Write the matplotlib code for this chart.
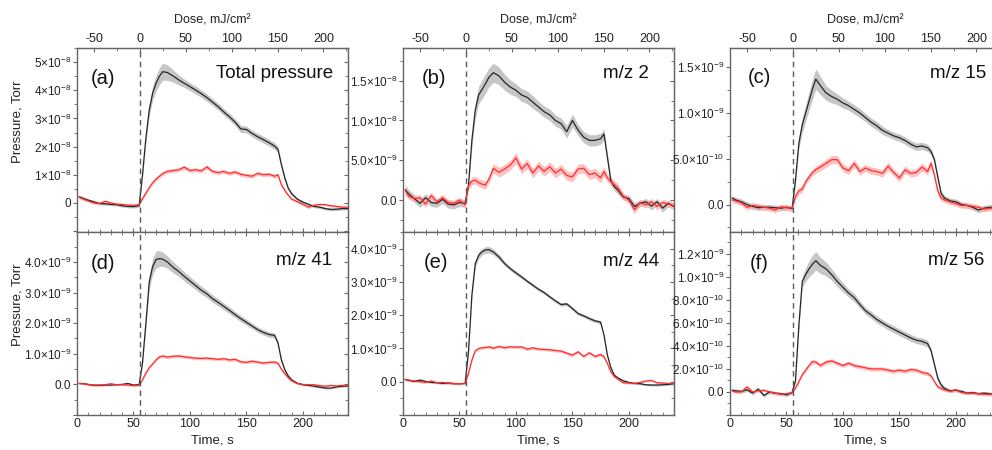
import numpy as np
import matplotlib
matplotlib.use('Agg')
import matplotlib.pyplot as plt
from matplotlib.ticker import MultipleLocator, FixedLocator, FuncFormatter

plt.rcParams['font.family'] = ['Liberation Sans', 'DejaVu Sans']
plt.rcParams['mathtext.fontset'] = 'custom'
plt.rcParams['mathtext.rm'] = 'Liberation Sans'
plt.rcParams['mathtext.it'] = 'Liberation Sans:italic'
plt.rcParams['mathtext.bf'] = 'Liberation Sans:bold'
plt.rcParams['axes.unicode_minus'] = False

# time grid, s (same for every panel)
t = [2, 5, 10, 15, 20, 25, 30, 35, 40, 45, 50, 55,
     58, 61, 64, 67, 70, 73, 76,
     80, 85, 90, 95, 100, 105, 110, 115, 120, 125, 130, 135, 140, 145, 150, 155, 160, 165, 170, 175,
     178, 181, 184, 187, 190,
     195, 200, 205, 210, 215, 220, 225, 230, 235, 240]

# (a) total pressure, units of 1e-8 Torr
a_black = [0.22, 0.17, 0.10, 0.04, -0.02, -0.03, -0.05, -0.06, -0.10, -0.12, -0.13, -0.10,
           1.0, 2.3, 3.3, 3.9, 4.25, 4.5, 4.66,
           4.63, 4.51, 4.37, 4.25, 4.13, 4.01, 3.88, 3.74, 3.58, 3.42, 3.23, 3.06, 2.87, 2.63, 2.61, 2.47, 2.35, 2.25, 2.14, 2.02,
           1.9, 1.36, 0.89, 0.53, 0.33,
           0.14, 0.03, -0.05, -0.12, -0.15, -0.20, -0.23, -0.22, -0.20, -0.20]
a_black_sd = [0.06, 0.06, 0.05, 0.05, 0.05, 0.05, 0.05, 0.05, 0.05, 0.05, 0.05, 0.05,
              0.10, 0.15, 0.20, 0.25, 0.28, 0.30, 0.30,
              0.28, 0.22, 0.18, 0.15, 0.14, 0.14, 0.13, 0.13, 0.12, 0.12, 0.12, 0.12, 0.12, 0.13, 0.12, 0.12, 0.12, 0.12, 0.12, 0.12,
              0.10, 0.10, 0.08, 0.06, 0.06,
              0.05, 0.05, 0.05, 0.05, 0.05, 0.05, 0.05, 0.05, 0.05, 0.05]
a_red = [0.20, 0.15, 0.07, 0.0, -0.02, 0.06, 0.0, -0.04, -0.05, -0.08, -0.08, -0.06,
         0.15, 0.35, 0.55, 0.72, 0.85, 0.95, 1.05,
         1.12, 1.15, 1.18, 1.27, 1.15, 1.18, 1.14, 1.28, 1.12, 1.08, 1.12, 1.05, 1.10, 1.02, 0.98, 0.95, 1.05, 1.00, 1.02, 0.95,
         1.0, 0.65, 0.45, 0.28, 0.14,
         0.05, -0.05, -0.15, -0.08, -0.05, -0.06, -0.10, -0.12, -0.15, -0.15]
a_red_sd = [0.05, 0.05, 0.04, 0.04, 0.04, 0.05, 0.04, 0.04, 0.04, 0.04, 0.04, 0.04,
            0.05, 0.05, 0.06, 0.06, 0.07, 0.07, 0.07,
            0.07, 0.07, 0.07, 0.08, 0.07, 0.07, 0.07, 0.08, 0.07, 0.07, 0.07, 0.07, 0.07, 0.07, 0.07, 0.07, 0.07, 0.07, 0.07, 0.07,
            0.07, 0.06, 0.05, 0.05, 0.05,
            0.04, 0.04, 0.05, 0.04, 0.04, 0.04, 0.04, 0.04, 0.04, 0.04]

# (b) m/z 2, units of 1e-9 Torr
b_black = [1.3, 0.8, 0.2, -0.4, 0.3, -0.3, -0.4, 0.1, -0.5, -0.6, -0.3, -0.4,
           1.9, 7.5, 11.3, 13.2, 13.9, 14.6, 15.4,
           16.0, 15.6, 14.8, 14.2, 13.8, 13.2, 12.9, 12.3, 11.7, 11.1, 10.7, 10.0, 9.6, 8.6, 10.0, 8.8, 7.9, 7.5, 7.5, 7.7,
           8.3, 5.4, 2.5, 1.7, 1.3,
           0.4, 0.2, -0.8, -0.4, -0.2, -0.75, -0.2, -1.0, -0.4, -0.8]
b_black_sd = [0.6, 0.5, 0.5, 0.5, 0.5, 0.5, 0.5, 0.5, 0.5, 0.5, 0.5, 0.5,
              0.6, 0.8, 1.0, 1.1, 1.2, 1.2, 1.2,
              1.2, 1.1, 1.0, 0.9, 0.8, 0.8, 0.8, 0.8, 0.7, 0.7, 0.7, 0.7, 0.7, 0.8, 0.8, 0.7, 0.7, 0.7, 0.7, 0.7,
              0.6, 0.5, 0.5, 0.5, 0.5,
              0.4, 0.4, 0.5, 0.4, 0.4, 0.5, 0.4, 0.5, 0.4, 0.4]
b_red = [1.2, 0.5, 0.2, 0.3, -0.5, 0.6, -0.2, 0.3, -0.3, -0.4, 0.0, -0.6,
         1.8, 2.4, 2.5, 2.2, 2.0, 1.9, 2.6,
         4.0, 3.5, 3.9, 4.4, 5.3, 3.9, 4.6, 3.4, 4.3, 3.6, 4.2, 3.4, 3.9, 3.1, 2.9, 3.9, 4.0, 3.2, 3.4, 2.8,
         3.6, 2.8, 2.3, 2.0, 1.6,
         0.5, 0.0, -1.2, -0.3, -0.6, -0.2, -0.8, -0.3, -0.5, -0.7]
b_red_sd = [0.5, 0.4, 0.4, 0.4, 0.4, 0.4, 0.4, 0.4, 0.4, 0.4, 0.4, 0.4,
            0.4, 0.5, 0.5, 0.5, 0.5, 0.5, 0.5,
            0.6, 0.6, 0.6, 0.6, 0.7, 0.6, 0.6, 0.6, 0.6, 0.6, 0.6, 0.6, 0.6, 0.6, 0.6, 0.6, 0.6, 0.6, 0.6, 0.6,
            0.6, 0.5, 0.5, 0.5, 0.5,
            0.4, 0.4, 0.5, 0.4, 0.4, 0.4, 0.4, 0.4, 0.4, 0.4]

# (c) m/z 15, units of 1e-10 Torr
c_black = [0.7, 0.5, 0.3, 0.0, -0.2, -0.35, -0.3, -0.3, -0.35, -0.4, -0.3, -0.45,
           2.7, 6.7, 8.7, 10.0, 11.3, 12.6, 13.7,
           13.0, 12.2, 11.8, 11.5, 11.1, 10.8, 10.4, 10.0, 9.5, 9.0, 8.6, 8.1, 7.8, 7.5, 7.3, 7.0, 6.6, 6.3, 6.4, 6.2,
           5.8, 4.9, 3.0, 1.2, 0.7,
           0.4, 0.3, 0.0, -0.1, -0.3, -0.6, -0.4, -0.3, -0.3, -0.4]
c_black_sd = [0.3, 0.3, 0.3, 0.3, 0.3, 0.3, 0.3, 0.3, 0.3, 0.3, 0.3, 0.3,
              0.4, 0.6, 0.8, 0.9, 1.0, 1.1, 1.1,
              1.0, 0.8, 0.7, 0.6, 0.55, 0.5, 0.5, 0.5, 0.45, 0.45, 0.45, 0.45, 0.4, 0.4, 0.4, 0.4, 0.4, 0.4, 0.4, 0.4,
              0.35, 0.3, 0.3, 0.3, 0.3,
              0.3, 0.3, 0.3, 0.3, 0.3, 0.3, 0.3, 0.3, 0.3, 0.3]
c_red = [0.5, 0.4, 0.2, -0.3, -0.1, -0.2, -0.3, -0.4, -0.6, -0.25, -0.35, -0.4,
         0.9, 1.5, 1.7, 2.5, 3.0, 3.5, 3.8,
         4.1, 4.5, 4.9, 4.9, 4.0, 3.7, 4.5, 3.6, 4.0, 3.7, 3.6, 3.4, 4.2, 3.5, 2.9, 3.8, 3.4, 3.5, 4.1, 3.6,
         4.5, 3.2, 1.5, 0.7, 0.5,
         0.3, 0.1, -0.1, -0.1, -0.2, -0.3, -0.5, -0.4, -0.4, -0.4]
c_red_sd = [0.3, 0.3, 0.3, 0.3, 0.3, 0.3, 0.3, 0.3, 0.3, 0.3, 0.3, 0.3,
            0.35, 0.35, 0.35, 0.35, 0.35, 0.35, 0.4,
            0.4, 0.45, 0.45, 0.45, 0.4, 0.4, 0.45, 0.4, 0.4, 0.4, 0.4, 0.4, 0.45, 0.4, 0.4, 0.4, 0.4, 0.4, 0.45, 0.4,
            0.4, 0.35, 0.35, 0.35, 0.3,
            0.3, 0.3, 0.3, 0.3, 0.3, 0.3, 0.3, 0.3, 0.3, 0.3]

# (d) m/z 41, units of 1e-10 Torr
d_black = [0.3, 0.3, 0.0, -0.3, -0.3, -0.2, -0.2, -0.1, 0.0, 0.3, -0.2, -0.1,
           7.0, 20.0, 33.5, 38.5, 40.8, 41.1, 40.9,
           40.0, 38.3, 36.9, 35.3, 33.8, 32.3, 30.8, 29.6, 28.0, 26.8, 25.5, 24.2, 22.8, 21.5, 20.3, 19.1, 17.9, 17.0, 16.3, 16.0,
           13.5, 8.0, 4.8, 2.8, 1.5,
           0.4, -0.1, -0.3, -0.6, -0.9, -1.2, -1.2, -0.8, -0.6, -0.5]
d_black_sd = [0.3, 0.3, 0.3, 0.3, 0.3, 0.3, 0.3, 0.3, 0.3, 0.3, 0.3, 0.3,
              0.6, 1.5, 2.2, 2.6, 2.8, 2.6, 2.3,
              2.0, 1.8, 1.6, 1.5, 1.4, 1.3, 1.3, 1.2, 1.2, 1.2, 1.1, 1.1, 1.0, 1.0, 1.0, 0.9, 0.9, 0.9, 0.9, 0.8,
              0.7, 0.6, 0.5, 0.4, 0.4,
              0.3, 0.3, 0.3, 0.3, 0.3, 0.3, 0.3, 0.3, 0.3, 0.3]
d_red = [0.3, 0.2, -0.1, -0.2, -0.2, -0.1, 0.2, -0.1, -0.1, -0.2, -0.4, -0.3,
         1.5, 3.7, 5.5, 6.7, 8.0, 9.0, 9.3,
         8.9, 9.2, 9.3, 9.0, 8.8, 8.6, 8.5, 8.6, 8.4, 8.2, 8.4, 8.0, 8.2, 7.4, 7.2, 7.6, 7.3, 7.0, 7.2, 7.3,
         6.9, 5.0, 3.5, 2.2, 1.2,
         0.3, 0.0, -0.1, -0.1, -0.4, -0.6, -0.3, -0.5, -0.3, -0.4]
d_red_sd = [0.3, 0.3, 0.3, 0.3, 0.3, 0.3, 0.3, 0.3, 0.3, 0.3, 0.3, 0.3,
            0.4, 0.4, 0.4, 0.4, 0.4, 0.45, 0.5,
            0.5, 0.5, 0.5, 0.5, 0.5, 0.5, 0.5, 0.5, 0.5, 0.5, 0.5, 0.5, 0.5, 0.5, 0.5, 0.5, 0.5, 0.5, 0.5, 0.5,
            0.4, 0.4, 0.4, 0.4, 0.4,
            0.3, 0.3, 0.3, 0.3, 0.3, 0.3, 0.3, 0.3, 0.3, 0.3]

# (e) m/z 44, units of 1e-10 Torr
e_black = [0.7, 0.4, 0.1, 0.5, 0.1, -0.2, -0.3, -0.5, -0.4, -0.6, -0.6, -0.5,
           9.0, 26.0, 35.5, 38.0, 39.1, 39.6, 39.7,
           39.0, 37.5, 35.5, 34.0, 32.7, 31.5, 30.2, 29.0, 27.8, 26.8, 25.5, 24.3, 23.2, 23.4, 22.0, 20.5, 19.8, 19.0, 18.3, 17.9,
           14.0, 8.0, 4.3, 2.0, 1.2,
           0.3, -0.2, -0.5, -0.6, -0.9, -1.0, -1.0, -0.9, -0.8, -0.6]
e_black_sd = [0.3, 0.3, 0.3, 0.3, 0.3, 0.3, 0.3, 0.3, 0.3, 0.3, 0.3, 0.3,
              0.5, 0.8, 1.0, 1.0, 1.0, 1.0, 1.0,
              0.9, 0.8, 0.7, 0.6, 0.6, 0.55, 0.5, 0.5, 0.5, 0.5, 0.5, 0.5, 0.5, 0.5, 0.5, 0.5, 0.5, 0.5, 0.5, 0.5,
              0.4, 0.4, 0.4, 0.4, 0.4,
              0.3, 0.3, 0.3, 0.3, 0.3, 0.3, 0.3, 0.3, 0.3, 0.3]
e_red = [0.6, 0.5, 0.2, 0.0, -0.2, 0.2, -0.3, -0.2, -0.4, -0.5, -0.6, -0.5,
         2.5, 6.5, 9.3, 10.0, 10.2, 10.3, 10.5,
         10.1, 10.6, 10.2, 10.5, 10.4, 10.5, 9.8, 10.2, 9.8, 9.7, 9.6, 9.4, 9.2, 8.6, 8.0, 9.0, 7.6, 8.7, 7.6, 8.2,
         7.5, 5.5, 3.0, 1.6, 0.9,
         -0.3, -0.4, -0.5, -0.2, 0.2, 0.4, -0.3, -0.4, -0.5, -0.6]
e_red_sd = [0.3, 0.3, 0.3, 0.3, 0.3, 0.3, 0.3, 0.3, 0.3, 0.3, 0.3, 0.3,
            0.4, 0.4, 0.4, 0.4, 0.4, 0.45, 0.45,
            0.45, 0.45, 0.45, 0.45, 0.45, 0.45, 0.45, 0.45, 0.45, 0.45, 0.45, 0.45, 0.45, 0.45, 0.45, 0.45, 0.45, 0.45, 0.45, 0.45,
            0.4, 0.4, 0.4, 0.4, 0.4,
            0.3, 0.3, 0.3, 0.3, 0.3, 0.3, 0.3, 0.3, 0.3, 0.3]

# (f) m/z 56, units of 1e-10 Torr
f_black = [0.15, 0.1, 0.05, 0.2, -0.1, 0.25, -0.3, 0.0, -0.1, -0.15, -0.25, -0.05,
           1.0, 5.8, 9.6, 10.2, 10.7, 11.1, 11.4,
           11.0, 10.7, 10.2, 9.6, 9.1, 8.6, 8.2, 7.6, 7.05, 6.7, 6.3, 6.0, 5.7, 5.45, 5.2, 4.95, 4.7, 4.5, 4.4, 4.2,
           3.6, 2.4, 1.2, 0.6, 0.3,
           0.1, 0.15, 0.05, -0.1, -0.05, -0.15, -0.1, -0.15, -0.2, -0.2]
f_black_sd = [0.15, 0.15, 0.15, 0.15, 0.15, 0.15, 0.15, 0.15, 0.15, 0.15, 0.15, 0.15,
              0.2, 0.4, 0.5, 0.6, 0.7, 0.8, 0.8,
              0.7, 0.6, 0.5, 0.45, 0.4, 0.35, 0.35, 0.3, 0.3, 0.3, 0.3, 0.3, 0.3, 0.3, 0.3, 0.3, 0.3, 0.3, 0.3, 0.3,
              0.2, 0.2, 0.2, 0.2, 0.2,
              0.15, 0.15, 0.15, 0.15, 0.15, 0.15, 0.15, 0.15, 0.15, 0.15]
f_red = [0.1, 0.0, 0.0, 0.45, 0.0, 0.1, 0.15, 0.0, -0.1, -0.2, -0.15, -0.05,
         0.35, 0.9, 1.5, 1.9, 2.3, 2.65, 2.6,
         2.3, 2.6, 2.7, 2.5, 2.3, 2.5, 2.3, 2.2, 2.1, 2.0, 2.0, 2.0, 1.9, 1.8, 1.9, 1.8, 1.95, 1.9, 1.7, 1.6,
         1.4, 0.9, 0.45, 0.3, 0.2,
         0.05, 0.2, -0.05, -0.1, -0.1, -0.15, -0.2, -0.2, -0.15, -0.15]
f_red_sd = [0.12, 0.12, 0.12, 0.12, 0.12, 0.12, 0.12, 0.12, 0.12, 0.12, 0.12, 0.12,
            0.15, 0.15, 0.15, 0.15, 0.15, 0.18, 0.18,
            0.18, 0.18, 0.18, 0.18, 0.18, 0.18, 0.18, 0.18, 0.18, 0.18, 0.18, 0.18, 0.18, 0.18, 0.18, 0.18, 0.18, 0.18, 0.18, 0.18,
            0.15, 0.15, 0.15, 0.15, 0.15,
            0.12, 0.12, 0.12, 0.12, 0.12, 0.12, 0.12, 0.12, 0.12, 0.12]

letters = ['(a)', '(b)', '(c)', '(d)', '(e)', '(f)']
titles = ['Total pressure', 'm/z 2', 'm/z 15', 'm/z 41', 'm/z 44', 'm/z 56']
scales = [1e-8, 1e-9, 1e-10, 1e-10, 1e-10, 1e-10]
ylims = [(-1.03e-8, 5.5e-8), (-4.0e-9, 1.91e-8), (-3.0e-10, 1.71e-9),
         (-1.0e-9, 4.98e-9), (-1.0e-9, 4.5e-9), (-2.0e-10, 1.39e-9)]
y_major = [1e-8, 5e-9, 5e-10, 1e-9, 1e-9, 2e-10]
y_decimals = [0, 1, 1, 1, 1, 1]
dose_ticks = [-50, 0, 50, 100, 150, 200]
dose_minor = [-75, -25, 25, 75, 125, 175, 225]
black_series = [a_black, b_black, c_black, d_black, e_black, f_black]
black_sd = [a_black_sd, b_black_sd, c_black_sd, d_black_sd, e_black_sd, f_black_sd]
red_series = [a_red, b_red, c_red, d_red, e_red, f_red]
red_sd = [a_red_sd, b_red_sd, c_red_sd, d_red_sd, e_red_sd, f_red_sd]

t_start = 55.8      # exposure start, s
dose_rate = 1.231   # mJ/cm2 per s

# layout in pixels of the 992x450 canvas
col_left = [77, 403, 730]
row_span = [(48, 232), (232, 415)]
ax_w = 271
letter_pos = [(0.05, 0.835), (0.069, 0.835), (0.064, 0.84), (0.05, 0.829), (0.075, 0.832), (0.074, 0.829)]
title_pos = [(0.946, 0.862), (0.906, 0.859), (0.944, 0.859), (0.94, 0.843), (0.945, 0.84), (0.94, 0.843)]

SPINE = '#666666'
TXT = '#222222'


def sci_label(v, dec):
    if v < -1e-20:
        return ''
    if abs(v) < 1e-20:
        return '0' if dec == 0 else '0.0'
    e = int(np.floor(np.log10(abs(v)) + 1e-6))
    m = f'{v / 10 ** e:.{dec}f}'
    return r'$%s{\times}10^{%d}$' % (m, e)


fig = plt.figure(figsize=(9.92, 4.5), dpi=100)
tt = np.array(t)

for i in range(6):
    row, col = divmod(i, 3)
    top, bot = row_span[row]
    ax = fig.add_axes([col_left[col] / 992, (450 - bot) / 450, ax_w / 992, (bot - top) / 450])

    k = scales[i]
    yb = np.array(black_series[i]) * k
    sb = np.array(black_sd[i]) * k
    yr = np.array(red_series[i]) * k
    sr = np.array(red_sd[i]) * k

    ax.fill_between(tt, yb - sb, yb + sb, color='#c6c6c6', lw=0, zorder=1)
    ax.fill_between(tt, yr - sr, yr + sr, color='#ffacac', alpha=0.75, lw=0, zorder=2)
    ax.plot(tt, yb, color='#262626', lw=0.9, zorder=3)
    ax.plot(tt, yr, color='#ff2e2e', lw=0.9, zorder=4)
    ax.axvline(56, color='#5a5a5a', lw=1.0, ls=(0, (4, 3)), zorder=5)

    ax.set_xlim(0, 240)
    ax.set_ylim(*ylims[i])
    ax.xaxis.set_major_locator(MultipleLocator(50))
    ax.xaxis.set_minor_locator(MultipleLocator(10))
    ax.yaxis.set_major_locator(MultipleLocator(y_major[i]))
    ax.yaxis.set_minor_locator(MultipleLocator(y_major[i] / 2))
    dec = y_decimals[i]
    ax.yaxis.set_major_formatter(FuncFormatter(lambda v, p, d=dec: sci_label(v, d)))

    for s in ax.spines.values():
        s.set_color(SPINE)
        s.set_linewidth(1.0)
    ax.tick_params(axis='y', which='both', direction='out', left=True, right=False,
                   labelsize=8.5, labelcolor=TXT, color=SPINE, pad=1)
    ax.tick_params(axis='y', which='major', length=3)
    ax.tick_params(axis='y', which='minor', length=2)
    ax.tick_params(axis='x', which='both', direction='in', bottom=True, top=(row == 1),
                   labelbottom=(row == 1), labelsize=9, labelcolor=TXT, color=SPINE, pad=2)
    ax.tick_params(axis='x', which='major', length=3)
    ax.tick_params(axis='x', which='minor', length=2.5)

    # right side ticks point inward
    sy = ax.secondary_yaxis('right')
    sy.yaxis.set_major_locator(MultipleLocator(y_major[i]))
    sy.yaxis.set_minor_locator(MultipleLocator(y_major[i] / 2))
    sy.tick_params(axis='y', which='both', direction='in', labelright=False, color=SPINE)
    sy.tick_params(axis='y', which='major', length=3)
    sy.tick_params(axis='y', which='minor', length=2)
    sy.spines['right'].set_color(SPINE)

    if row == 0:
        sx = ax.secondary_xaxis('top', functions=(lambda x: (x - t_start) * dose_rate,
                                                   lambda d: d / dose_rate + t_start))
        sx.xaxis.set_major_locator(FixedLocator(dose_ticks))
        sx.xaxis.set_minor_locator(FixedLocator(dose_minor))
        sx.tick_params(axis='x', which='both', direction='in', labelsize=9,
                       labelcolor=TXT, color=SPINE, pad=2)
        sx.tick_params(axis='x', which='major', length=3)
        sx.tick_params(axis='x', which='minor', length=2.5)
        sx.spines['top'].set_color(SPINE)
        ax.text(0.5, 1.152, 'Dose, mJ/cm²', transform=ax.transAxes, ha='center', va='center',
                fontsize=9, color=TXT)
    else:
        ax.text(0.5, -0.137, 'Time, s', transform=ax.transAxes, ha='center', va='center',
                fontsize=9.5, color=TXT)

    if col == 0:
        ax.set_ylabel('Pressure, Torr', fontsize=9.5, color=TXT)
        ax.yaxis.set_label_coords(-0.196, 0.6)

    lx, ly = letter_pos[i]
    ax.text(lx, ly, letters[i], transform=ax.transAxes, ha='left', va='center',
            fontsize=14.5, color='#111111', zorder=6)
    tx, ty = title_pos[i]
    ax.text(tx, ty, titles[i], transform=ax.transAxes, ha='right', va='center',
            fontsize=13.5, color='#111111', zorder=6)

fig.savefig('out.png', dpi=100)
